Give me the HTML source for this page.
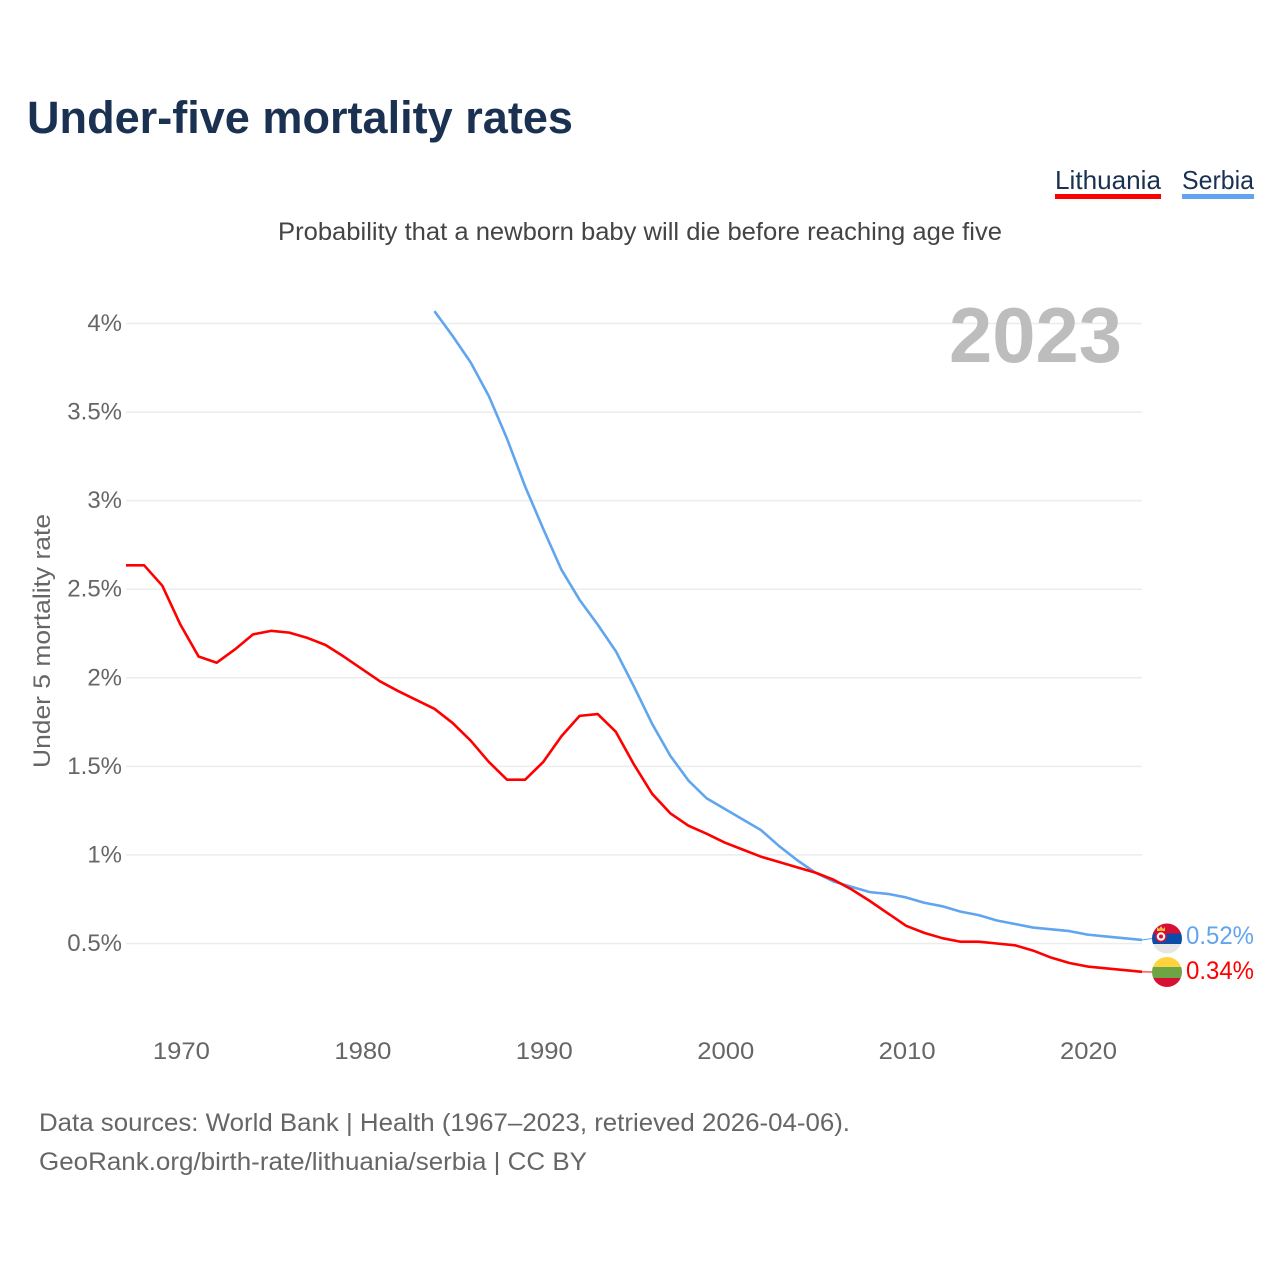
<!DOCTYPE html>
<html lang="en">
<head>
<meta charset="utf-8">
<title>Under-five mortality rates</title>
<style>
html,body{margin:0;padding:0;background:#fff;}
svg{display:block;font-family:"Liberation Sans",sans-serif;}
</style>
</head>
<body>
<svg id="chart" width="1280" height="1280" viewBox="0 0 1280 1280" xmlns="http://www.w3.org/2000/svg">
  <defs>
    <clipPath id="clip-rs"><circle cx="1167" cy="938.5" r="15"/></clipPath>
    <clipPath id="clip-lt"><circle cx="1167" cy="972" r="15"/></clipPath>
  </defs>
  <rect width="1280" height="1280" fill="#fff"/>
  <text x="27" y="133" font-size="45" font-weight="700" fill="#1a3152" textLength="546" lengthAdjust="spacingAndGlyphs">Under-five mortality rates</text>

  <g>
    <g>
      <text x="1055" y="189" font-size="26" fill="#1a3152" textLength="106" lengthAdjust="spacingAndGlyphs">Lithuania</text>
      <rect x="1055" y="194" width="106" height="5" fill="#ff0000"/>
    </g>
    <g>
      <text x="1182" y="189" font-size="26" fill="#1a3152" textLength="72" lengthAdjust="spacingAndGlyphs">Serbia</text>
      <rect x="1182" y="194" width="72" height="5" fill="#60a5ee"/>
    </g>
  </g>

  <text x="278" y="240" font-size="25" fill="#444" textLength="724" lengthAdjust="spacingAndGlyphs">Probability that a newborn baby will die before reaching age five</text>

  <g id="grid"></g>
  <g id="yticks"></g>
  <g id="xticks"></g>

  <text x="0" y="0" transform="translate(50,641) rotate(-90)" text-anchor="middle" font-size="24" fill="#666" textLength="254" lengthAdjust="spacingAndGlyphs">Under 5 mortality rate</text>

  <text x="949" y="362" font-size="78" font-weight="700" fill="#bdbdbd" textLength="173" lengthAdjust="spacingAndGlyphs">2023</text>

  <g id="series"></g>

  <g clip-path="url(#clip-rs)">
    <rect x="1152" y="923" width="30" height="10.5" fill="#d80f34"/>
    <rect x="1152" y="933.5" width="30" height="10.5" fill="#0a4da8"/>
    <rect x="1152" y="944" width="30" height="10" fill="#e6e6e6"/>
    <path d="M1157 931v-4l2 2 2-3 2 3 2-2v4z" fill="#f5c33b"/>
    <circle cx="1161" cy="936.5" r="5" fill="#f3f3f3" stroke="#d80f34" stroke-width="1.5"/>
    <circle cx="1161" cy="936.5" r="2" fill="#d80f34"/>
  </g>
  <g clip-path="url(#clip-lt)">
    <rect x="1152" y="957" width="30" height="10" fill="#ffd33f"/>
    <rect x="1152" y="967" width="30" height="11" fill="#6da544"/>
    <rect x="1152" y="978" width="30" height="9" fill="#d80f34"/>
  </g>

  <text x="1186" y="944" font-size="25" fill="#60a5ee" textLength="68" lengthAdjust="spacingAndGlyphs">0.52%</text>
  <text x="1186" y="979" font-size="25" fill="#ff0000" textLength="68" lengthAdjust="spacingAndGlyphs">0.34%</text>

  <text x="39" y="1131" font-size="25" fill="#666" textLength="811" lengthAdjust="spacingAndGlyphs">Data sources: World Bank | Health (1967–2023, retrieved 2026-04-06).</text>
  <text x="39" y="1170" font-size="25" fill="#666" textLength="548" lengthAdjust="spacingAndGlyphs">GeoRank.org/birth-rate/lithuania/serbia | CC BY</text>
</svg>
<script>
const years = [1967,1968,1969,1970,1971,1972,1973,1974,1975,1976,1977,1978,1979,1980,1981,1982,1983,1984,1985,1986,1987,1988,1989,1990,1991,1992,1993,1994,1995,1996,1997,1998,1999,2000,2001,2002,2003,2004,2005,2006,2007,2008,2009,2010,2011,2012,2013,2014,2015,2016,2017,2018,2019,2020,2021,2022,2023];
const lithuania = [2.635,2.635,2.52,2.30,2.12,2.085,2.16,2.245,2.265,2.255,2.225,2.185,2.12,2.05,1.98,1.925,1.875,1.825,1.745,1.645,1.525,1.425,1.425,1.525,1.67,1.785,1.795,1.695,1.51,1.345,1.235,1.165,1.12,1.07,1.03,0.99,0.96,0.93,0.90,0.86,0.805,0.74,0.67,0.60,0.56,0.53,0.51,0.51,0.50,0.49,0.46,0.42,0.39,0.37,0.36,0.35,0.34];
const serbia = [null,null,null,null,null,null,null,null,null,null,null,null,null,null,null,null,null,4.07,3.93,3.78,3.59,3.35,3.08,2.84,2.61,2.44,2.30,2.15,1.95,1.74,1.56,1.42,1.32,1.26,1.20,1.14,1.05,0.97,0.90,0.85,0.82,0.79,0.78,0.76,0.73,0.71,0.68,0.66,0.63,0.61,0.59,0.58,0.57,0.55,0.54,0.53,0.52];
const yTickValues = [0.5,1,1.5,2,2.5,3,3.5,4];
const yTickLabels = ["0.5%","1%","1.5%","2%","2.5%","3%","3.5%","4%"];
const xTickValues = [1970,1980,1990,2000,2010,2020];
const xTickLabels = ["1970","1980","1990","2000","2010","2020"];

const NS = "http://www.w3.org/2000/svg";
function xScale(year){ return 126 + (year - 1967) * (1142 - 126) / 56; }
function yScale(v){ return 1032.07 - v * 177.14; }

const grid = document.getElementById("grid");
const yticks = document.getElementById("yticks");
const xticks = document.getElementById("xticks");
const series = document.getElementById("series");

yTickValues.forEach(function(v, i){
  const line = document.createElementNS(NS, "line");
  line.setAttribute("x1", 126);
  line.setAttribute("x2", 1142);
  line.setAttribute("y1", yScale(v));
  line.setAttribute("y2", yScale(v));
  line.setAttribute("stroke", "#ececec");
  line.setAttribute("stroke-width", "1.5");
  
  
  grid.appendChild(line);

  const t = document.createElementNS(NS, "text");
  t.setAttribute("x", 122);
  t.setAttribute("y", yScale(v) + 7.5);
  t.setAttribute("text-anchor", "end");
  t.setAttribute("font-size", "24");
  t.setAttribute("fill", "#666");
  t.textContent = yTickLabels[i];
  
  
  yticks.appendChild(t);
});

xTickValues.forEach(function(v, i){
  const t = document.createElementNS(NS, "text");
  t.setAttribute("x", xScale(v) + 1);
  t.setAttribute("y", 1059);
  t.setAttribute("text-anchor", "middle");
  t.setAttribute("font-size", "24");
  t.setAttribute("fill", "#666");
  t.setAttribute("textLength", "57");
  t.setAttribute("lengthAdjust", "spacingAndGlyphs");
  t.textContent = xTickLabels[i];
  
  
  xticks.appendChild(t);
});

function linePoints(values){
  const pts = [];
  values.forEach(function(v, i){
    if (v !== null) pts.push(xScale(years[i]).toFixed(2) + "," + yScale(v).toFixed(2));
  });
  return pts.join(" ");
}
function lastValue(values){ return values[values.length - 1]; }

const serbiaLine = document.createElementNS(NS, "polyline");
serbiaLine.setAttribute("points", linePoints(serbia));
serbiaLine.setAttribute("fill", "none");
serbiaLine.setAttribute("stroke", "#60a5ee");
serbiaLine.setAttribute("stroke-width", "2.6");
serbiaLine.setAttribute("stroke-linejoin", "round");


series.appendChild(serbiaLine);

const lithuaniaLine = document.createElementNS(NS, "polyline");
lithuaniaLine.setAttribute("points", linePoints(lithuania));
lithuaniaLine.setAttribute("fill", "none");
lithuaniaLine.setAttribute("stroke", "#ff0000");
lithuaniaLine.setAttribute("stroke-width", "2.6");
lithuaniaLine.setAttribute("stroke-linejoin", "round");


series.appendChild(lithuaniaLine);

const serbiaConnector = document.createElementNS(NS, "line");
serbiaConnector.setAttribute("x1", xScale(2023));
serbiaConnector.setAttribute("y1", yScale(lastValue(serbia)));
serbiaConnector.setAttribute("x2", 1152);
serbiaConnector.setAttribute("y2", 938.5);
serbiaConnector.setAttribute("stroke", "#60a5ee");
serbiaConnector.setAttribute("stroke-width", "1");


series.appendChild(serbiaConnector);

const lithuaniaConnector = document.createElementNS(NS, "line");
lithuaniaConnector.setAttribute("x1", xScale(2023));
lithuaniaConnector.setAttribute("y1", yScale(lastValue(lithuania)));
lithuaniaConnector.setAttribute("x2", 1152);
lithuaniaConnector.setAttribute("y2", 972);
lithuaniaConnector.setAttribute("stroke", "#ff0000");
lithuaniaConnector.setAttribute("stroke-width", "1");


series.appendChild(lithuaniaConnector);
</script>
</body>
</html>
